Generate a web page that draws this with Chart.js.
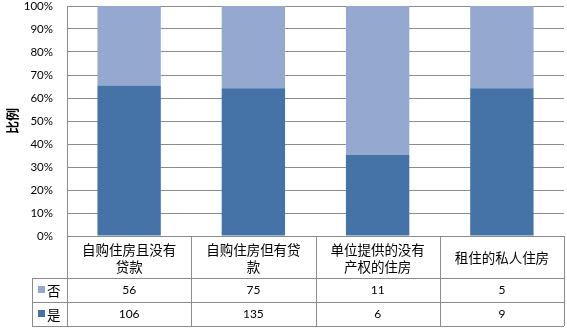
<!DOCTYPE html>
<html><head><meta charset="utf-8">
<script src="https://cdn.jsdelivr.net/npm/chart.js@4/dist/chart.umd.min.js"></script>
<style>html,body{margin:0;padding:0;background:#fff;}canvas{display:block;}</style>
</head><body>
<canvas id="c" width="567" height="329"></canvas>
<script>
const categories = ['自购住房且没有贷款', '自购住房但有贷款', '单位提供的没有产权的住房', '租住的私人住房'];
const yesValues = [106, 135, 6, 9];
const noValues = [56, 75, 11, 5];
const seriesNames = ['是', '否'];
const yTicks = [0, 10, 20, 30, 40, 50, 60, 70, 80, 90, 100];

const DARK = '#4572a7';
const LIGHT = '#95a9d0';
const GRID = '#8c8c8c';
const CJK = '"Noto Sans CJK SC", sans-serif';
const NUM = 'Lato, "Liberation Sans", sans-serif';

const totals = yesValues.map((v, i) => v + noValues[i]);
const yesPct = yesValues.map((v, i) => v / totals[i] * 100);
const noPct = noValues.map((v, i) => v / totals[i] * 100);

function wrapChars(ctx, text, maxW) {
  const lines = []; let cur = '';
  for (const ch of text) {
    if (ctx.measureText(cur + ch).width > maxW && cur) { lines.push(cur); cur = ch; }
    else cur += ch;
  }
  if (cur) lines.push(cur);
  return lines;
}

const tablePlugin = {
  id: 'dataTable',
  afterDraw(chart) {
    const ctx = chart.ctx;
    const xs = chart.scales.x;
    const area = chart.chartArea;
    const top = area.bottom;
    const hdrBottom = 278;
    const r1Bottom = 302;
    const r2Bottom = 326;
    const tableLeft = 32;
    const n = categories.length;
    const step = (area.right - area.left) / n;
    const bounds = [];
    for (let i = 0; i < n; i++) {
      const c = xs.getPixelForValue(i);
      bounds.push([c - step / 2, c + step / 2]);
    }
    ctx.save();
    ctx.strokeStyle = GRID;
    ctx.lineWidth = 1;
    const L = (x1, y1, x2, y2) => { ctx.beginPath(); ctx.moveTo(x1, y1); ctx.lineTo(x2, y2); ctx.stroke(); };
    const px = v => Math.round(v) + 0.5;
    L(area.left, px(top), area.right, px(top));
    L(tableLeft, px(hdrBottom), area.right, px(hdrBottom));
    L(tableLeft, px(r1Bottom), area.right, px(r1Bottom));
    L(tableLeft, px(r2Bottom), area.right, px(r2Bottom));
    L(px(tableLeft), hdrBottom, px(tableLeft), r2Bottom);
    L(px(area.left), top, px(area.left), r2Bottom);
    bounds.forEach(b => L(px(b[1]), top, px(b[1]), r2Bottom));

    ctx.fillStyle = '#000';
    ctx.textAlign = 'center';
    ctx.textBaseline = 'middle';
    ctx.font = '13.5px ' + CJK;
    const lh = 17;
    categories.forEach((cat, i) => {
      const cx = (bounds[i][0] + bounds[i][1]) / 2;
      const lines = wrapChars(ctx, cat, step - 20);
      const cy = (top + hdrBottom) / 2 + 1;
      const y0 = cy - (lines.length - 1) * lh / 2;
      lines.forEach((ln, k) => ctx.fillText(ln, cx, y0 + k * lh));
    });
    const rows = [
      { name: seriesNames[1], color: LIGHT, vals: noValues, y: (hdrBottom + r1Bottom) / 2 },
      { name: seriesNames[0], color: DARK, vals: yesValues, y: (r1Bottom + r2Bottom) / 2 }
    ];
    rows.forEach(r => {
      ctx.fillStyle = r.color;
      ctx.fillRect(38, Math.round(r.y) - 4, 7, 7);
      ctx.fillStyle = '#000';
      ctx.font = '13.5px ' + CJK;
      ctx.textAlign = 'left';
      ctx.fillText(r.name, 47, r.y + 0.5);
      ctx.textAlign = 'center';
      ctx.font = '12px ' + NUM;
      r.vals.forEach((v, i) => {
        const cx = (bounds[i][0] + bounds[i][1]) / 2;
        ctx.fillText(String(v), cx, r.y + 0.5);
      });
    });
    ctx.restore();
  }
};

new Chart(document.getElementById('c'), {
  type: 'bar',
  data: {
    labels: categories,
    datasets: [
      { label: seriesNames[0], data: yesPct, backgroundColor: DARK, borderWidth: 0, categoryPercentage: 1, barPercentage: 0.51 },
      { label: seriesNames[1], data: noPct, backgroundColor: LIGHT, borderWidth: 0, categoryPercentage: 1, barPercentage: 0.51 }
    ]
  },
  options: {
    responsive: false,
    animation: false,
    devicePixelRatio: 1,
    layout: { padding: { top: 6, right: 3, bottom: 93, left: 0 } },
    plugins: { legend: { display: false }, tooltip: { enabled: false } },
    scales: {
      x: { display: false, stacked: true },
      y: {
        stacked: true,
        min: 0, max: 100,
        afterFit(scale) { scale.width = 67; scale.paddingTop = 0; scale.paddingBottom = 0; },
        afterBuildTicks(scale) { scale.ticks = yTicks.map(v => ({ value: v })); },
        ticks: { padding: 14, color: '#000', font: { family: NUM, size: 11.5 }, callback: v => v + '%' },
        grid: { color: GRID, drawTicks: false },
        border: { color: GRID },
        title: { display: true, text: '比例', color: '#000', font: { family: CJK, size: 13, weight: 'bold' }, padding: { top: 4, bottom: 0 } }
      }
    }
  },
  plugins: [tablePlugin]
});
</script>
</body></html>
